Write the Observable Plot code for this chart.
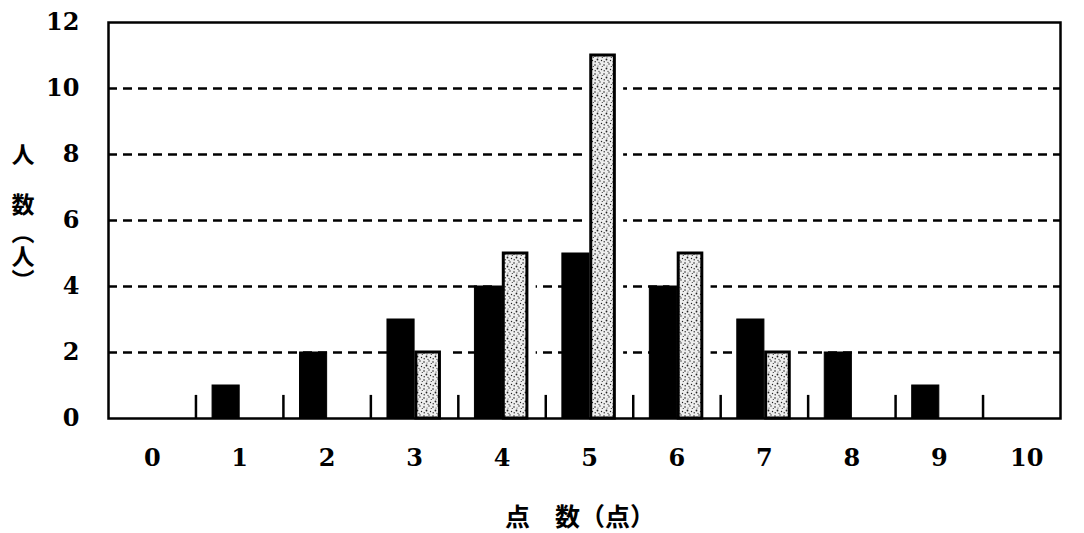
<!DOCTYPE html>
<html>
<head>
<meta charset="utf-8">
<script src="https://cdn.jsdelivr.net/npm/d3@7"></script>
<script src="https://cdn.jsdelivr.net/npm/@observablehq/plot@0.6"></script>
<style>
  body { margin: 0; background: #fff; }
  #wrap { position: relative; width: 1084px; height: 533px; }
  .cjk { position: absolute; font-family: "Noto Sans CJK JP", sans-serif; font-weight: bold; font-size: 23px; color: #000; line-height: 1; }
  #ylab { left: 11px; top: 143px; writing-mode: vertical-rl; }
  #xlab { left: 0; width: 1084px; top: 503px; text-align: center; padding-left: 76px; box-sizing: border-box; font-size: 25px; }
</style>
</head>
<body>
<div id="wrap">
  <div id="chart"></div>
  <div id="ylab" class="cjk"><span style="margin-bottom:27px">人</span><span style="margin-bottom:15px">数</span><span style="font-feature-settings:'vpal';letter-spacing:2px">（人）</span></div>
  <div id="xlab" class="cjk">点　数（点）</div>
</div>
<script>
const scores = [0, 1, 2, 3, 4, 5, 6, 7, 8, 9, 10];
const seriesBlack = [0, 1, 2, 3, 4, 5, 4, 3, 2, 1, 0];
const seriesDotted = [0, 0, 0, 2, 5, 11, 5, 2, 0, 0, 0];
const yTicks = [0, 2, 4, 6, 8, 10, 12];
const gridTicks = [2, 4, 6, 8, 10];
const dividers = [0.5, 1.5, 2.5, 3.5, 4.5, 5.5, 6.5, 7.5, 8.5, 9.5];

const barW = 0.31;
const black = scores.map((s, i) => ({score: s, value: seriesBlack[i]})).filter(d => d.value > 0);
const dotted = scores.map((s, i) => ({score: s, value: seriesDotted[i]})).filter(d => d.value > 0);

const font = {fontSize: 24, fontWeight: "bold", fontFamily: "'DejaVu Serif', serif"};

const plot = Plot.plot({
  width: 1084,
  height: 533,
  marginLeft: 108,
  marginRight: 24,
  marginTop: 22,
  marginBottom: 115,
  style: {fontFamily: "'DejaVu Serif', serif", fontSize: "24px", fontWeight: "bold", color: "#000", background: "#fff"},
  x: {type: "linear", domain: [-0.5, 10.5], range: [108, 1070]},
  y: {domain: [0, 12]},
  marks: [
    Plot.ruleY(gridTicks, {y: d => d, x1: -0.5, x2: 10.5, clip: true, stroke: "#000", strokeWidth: 2.5, strokeDasharray: "9,6"}),
    Plot.ruleX(dividers, {x: d => d, y1: 0, y2: 0.7, stroke: "#000", strokeWidth: 2.5}),
    Plot.rectY(dotted, {x1: d => d.score, x2: d => d.score + barW, y1: 0, y2: "value", fill: "#fff", stroke: "#fff", strokeWidth: 14}),
    Plot.rectY(black, {x1: d => d.score - barW, x2: d => d.score, y1: 0, y2: "value", fill: "#000", stroke: "#000", strokeWidth: 1}),
    Plot.rectY(dotted, {x1: d => d.score + 0.02, x2: d => d.score + barW - 0.02, y1: 0, y2: "value", fill: "url(#stipple)", stroke: "#000", strokeWidth: 3}),
    Plot.axisY(yTicks, {tickSize: 0, tickPadding: 29, label: null, ...font}),
    Plot.axisX(scores, {tickSize: 0, tickPadding: 30, label: null, ...font}),
    Plot.frame({stroke: "#000", strokeWidth: 2.5})
  ]
});

// stipple pattern for the light bars
const svg = d3.select(plot);
const pat = svg.insert("defs", ":first-child")
  .append("pattern").attr("id", "stipple").attr("patternUnits", "userSpaceOnUse")
  .attr("width", 9).attr("height", 9);
pat.append("rect").attr("width", 9).attr("height", 9).attr("fill", "#eeeeee");
const dots = [[1, 2, 0.8], [6, 1, 0.7], [3.5, 5.5, 0.9], [7.5, 6.5, 0.7], [5, 8.3, 0.6], [8.3, 3.5, 0.6], [1.2, 7.8, 0.7], [4, 3, 0.5]];
dots.forEach(([cx, cy, r]) => pat.append("circle").attr("cx", cx).attr("cy", cy).attr("r", r).attr("fill", "#222"));

document.getElementById("chart").append(plot);
</script>
</body>
</html>
